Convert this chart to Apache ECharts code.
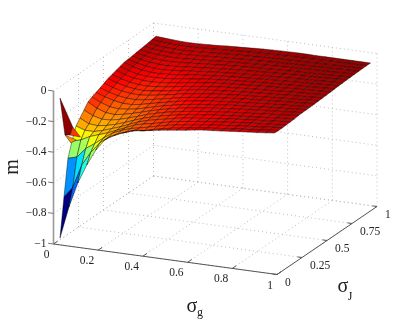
<!DOCTYPE html>
<html>
<head>
<meta charset="utf-8">
<style>html,body{margin:0;padding:0;background:#fff}#chart{width:415px;height:324px}</style>
<script src="https://cdn.jsdelivr.net/npm/echarts@6/dist/echarts.min.js"></script>
</head>
<body>
<div id="chart"></div>
<script>
const sigmaG = [0.02,0.06,0.10,0.14,0.18,0.22,0.26,0.30,0.34,0.38,0.42,0.46,0.50,0.54,0.58,0.62,0.66,0.70,0.74,0.78,0.82,0.86,0.90,0.94,0.98];
const sigmaJ = [0.02,0.06,0.10,0.14,0.18,0.22,0.26,0.30,0.34,0.38,0.42,0.46,0.50,0.54,0.58,0.62,0.66,0.70,0.74,0.78,0.82,0.86,0.90,0.94,0.98];
// one row per sigmaJ
const m = [
[-.966,-.756,-.59,-.465,-.36,-.286,-.25,-.224,-.203,-.193,-.184,-.174,-.165,-.157,-.15,-.141,-.133,-.128,-.123,-.117,-.111,-.106,-.101,-.095,-.088],
[-.716,-.643,-.49,-.40,-.33,-.285,-.255,-.235,-.215,-.21,-.195,-.182,-.17,-.162,-.153,-.145,-.137,-.131,-.125,-.119,-.113,-.108,-.102,-.096,-.09],
[-.48,-.464,-.40,-.36,-.315,-.275,-.25,-.23,-.218,-.205,-.19,-.178,-.167,-.158,-.15,-.142,-.135,-.129,-.123,-.117,-.111,-.106,-.101,-.095,-.089],
[-.386,-.37,-.34,-.32,-.30,-.275,-.25,-.225,-.21,-.20,-.186,-.173,-.162,-.154,-.146,-.139,-.132,-.126,-.12,-.114,-.109,-.104,-.099,-.094,-.087],
[-.305,-.325,-.325,-.31,-.29,-.27,-.245,-.222,-.205,-.192,-.18,-.168,-.157,-.15,-.143,-.136,-.129,-.123,-.117,-.112,-.107,-.102,-.097,-.092,-.086],
[-.271,-.30,-.305,-.295,-.28,-.26,-.238,-.217,-.2,-.186,-.174,-.163,-.153,-.146,-.139,-.132,-.126,-.12,-.115,-.11,-.105,-.1,-.095,-.09,-.084],
[-.236,-.265,-.28,-.278,-.265,-.248,-.23,-.21,-.194,-.18,-.168,-.158,-.149,-.142,-.135,-.128,-.122,-.117,-.112,-.107,-.102,-.097,-.092,-.087,-.08],
[-.201,-.235,-.255,-.26,-.25,-.236,-.22,-.203,-.188,-.175,-.163,-.153,-.144,-.137,-.13,-.124,-.118,-.113,-.108,-.103,-.098,-.094,-.09,-.085,-.079],
[-.187,-.215,-.235,-.24,-.235,-.225,-.21,-.195,-.181,-.169,-.157,-.148,-.139,-.133,-.126,-.12,-.114,-.11,-.105,-.1,-.095,-.091,-.087,-.083,-.078],
[-.175,-.195,-.212,-.222,-.222,-.213,-.2,-.187,-.174,-.162,-.151,-.142,-.134,-.128,-.122,-.116,-.111,-.107,-.102,-.097,-.093,-.089,-.085,-.081,-.077],
[-.163,-.183,-.198,-.206,-.208,-.20,-.19,-.178,-.167,-.155,-.145,-.137,-.129,-.123,-.117,-.112,-.107,-.103,-.099,-.094,-.09,-.086,-.083,-.079,-.076],
[-.15,-.171,-.185,-.193,-.195,-.189,-.18,-.17,-.159,-.148,-.139,-.131,-.124,-.118,-.113,-.108,-.103,-.1,-.096,-.092,-.088,-.084,-.081,-.077,-.074],
[-.137,-.158,-.173,-.181,-.184,-.178,-.17,-.161,-.151,-.141,-.133,-.125,-.119,-.114,-.109,-.104,-.1,-.096,-.093,-.089,-.085,-.082,-.079,-.076,-.073],
[-.128,-.149,-.163,-.171,-.173,-.168,-.161,-.152,-.143,-.135,-.127,-.12,-.114,-.109,-.105,-.1,-.096,-.093,-.09,-.086,-.083,-.08,-.077,-.074,-.071],
[-.12,-.14,-.154,-.161,-.163,-.159,-.152,-.144,-.136,-.128,-.121,-.115,-.109,-.105,-.101,-.097,-.093,-.09,-.087,-.083,-.08,-.077,-.074,-.072,-.069],
[-.111,-.132,-.146,-.152,-.153,-.15,-.144,-.136,-.129,-.122,-.115,-.11,-.105,-.101,-.097,-.094,-.09,-.087,-.084,-.081,-.078,-.075,-.072,-.07,-.067],
[-.103,-.124,-.137,-.144,-.145,-.141,-.136,-.129,-.122,-.116,-.11,-.105,-.1,-.097,-.094,-.09,-.087,-.084,-.081,-.078,-.075,-.073,-.07,-.068,-.065],
[-.10,-.117,-.129,-.135,-.137,-.133,-.128,-.122,-.116,-.11,-.105,-.1,-.096,-.093,-.09,-.087,-.084,-.081,-.078,-.076,-.073,-.071,-.068,-.066,-.064],
[-.097,-.111,-.122,-.127,-.129,-.125,-.12,-.115,-.11,-.105,-.1,-.096,-.092,-.089,-.086,-.083,-.08,-.078,-.075,-.073,-.071,-.069,-.066,-.064,-.062],
[-.093,-.106,-.115,-.119,-.12,-.117,-.113,-.108,-.104,-.099,-.095,-.091,-.088,-.085,-.082,-.08,-.077,-.075,-.073,-.071,-.069,-.067,-.065,-.063,-.061],
[-.09,-.101,-.108,-.111,-.112,-.11,-.106,-.102,-.098,-.094,-.09,-.087,-.084,-.081,-.079,-.076,-.074,-.072,-.07,-.068,-.066,-.065,-.063,-.061,-.06],
[-.086,-.096,-.102,-.105,-.105,-.103,-.099,-.096,-.092,-.089,-.086,-.083,-.08,-.078,-.075,-.073,-.071,-.069,-.067,-.066,-.064,-.063,-.061,-.06,-.059],
[-.082,-.091,-.096,-.099,-.099,-.097,-.094,-.09,-.087,-.084,-.081,-.078,-.076,-.074,-.072,-.07,-.068,-.066,-.065,-.063,-.062,-.061,-.06,-.059,-.058],
[-.078,-.085,-.09,-.092,-.092,-.09,-.087,-.085,-.081,-.078,-.075,-.072,-.07,-.068,-.066,-.065,-.063,-.062,-.061,-.06,-.059,-.059,-.058,-.058,-.057],
[-.073,-.078,-.082,-.085,-.086,-.084,-.081,-.079,-.074,-.071,-.068,-.065,-.062,-.06,-.058,-.057,-.056,-.056,-.057,-.057,-.057,-.057,-.057,-.057,-.057]
];
// the spike at the near corner does not sit on the regular grid: [sigmaG, sigmaJ, m], and the m it is coloured by
const spikePatches = [
  {colorM: -.28, pts: [[.02,.07,-.314],[.07,.07,-.337],[.02,.13,-.394]]},
  {colorM: -.05, pts: [[.02,.02,-.051],[.02,.07,-.314],[.045,.065,-.308],[.055,.07,-.256]]},
  {colorM: -.2, pts: [[.055,.07,-.256],[.08,.09,-.325],[.045,.065,-.308]]}
];
const xTicks = [0,0.2,0.4,0.6,0.8,1];
const yTicks = [0,0.25,0.5,0.75,1];
const zTicks = [0,-0.2,-0.4,-0.6,-0.8,-1];
const xTickLabels = ['0','0.2','0.4','0.6','0.8','1'];
const yTickLabels = ['0','0.25','0.5','0.75','1'];
const zTickLabels = ['0','\u22120.2','\u22120.4','\u22120.6','\u22120.8','\u22121'];

// orthographic view of the unit box
function project(x, y, z) {
    return [53.5 + 223.5*x + 100*y, 244 + 30.5*x - 68*y - 153*(z + 1)];
}

function jet(t) {
    var f = function(c){ return Math.round(255*Math.max(0, Math.min(1, c))); };
    var r = 1.5 - Math.abs(4*t - 3);
    var g = 1.5 - Math.abs(4*t - 2);
    var b = 1.5 - Math.abs(4*t - 1);
    return 'rgb(' + f(r) + ',' + f(g) + ',' + f(b) + ')';
}
var zMin = -0.966, zMax = -0.035;
function colorOf(z){ return jet((z - zMin)/(zMax - zMin)); }

var gridLines = [];
zTicks.forEach(function(z){
    gridLines.push([[0,0,z],[0,1,z]]);
    gridLines.push([[0,1,z],[1,1,z]]);
});
xTicks.forEach(function(x){
    gridLines.push([[x,0,-1],[x,1,-1]]);
    gridLines.push([[x,1,-1],[x,1,0]]);
});
yTicks.forEach(function(y){
    gridLines.push([[0,y,-1],[1,y,-1]]);
    gridLines.push([[0,y,-1],[0,y,0]]);
});

var axisLines = [
    {a:[0,0,-1], b:[1,0,-1], c:'#555', w:1},
    {a:[1,0,-1], b:[1,1,-1], c:'#555', w:1},
    {a:[0,0,-1], b:[0,0,0], c:'#999', w:1.6}
];
xTicks.forEach(function(x){ axisLines.push({a:[x,0,-1], b:[x,0.04,-1], c:'#555', w:1}); });
yTicks.forEach(function(y){ axisLines.push({a:[1,y,-1], b:[0.98,y,-1], c:'#555', w:1}); });
zTicks.forEach(function(z){ axisLines.push({a:[0,0,z], b:[-0.024,0,z], c:'#777', w:1}); });

var tickTexts = [];
xTicks.forEach(function(x,k){
    var p = project(x,0,-1);
    tickTexts.push({x:p[0]-4, y:p[1]+11, s:xTickLabels[k], align:'right'});
});
yTicks.forEach(function(y,k){
    var p = project(1,y,-1);
    tickTexts.push({x:p[0]+8, y:p[1]+8, s:yTickLabels[k], align:'left'});
});
zTicks.forEach(function(z,k){
    var p = project(0,0,z);
    tickTexts.push({x:p[0]-7, y:p[1], s:zTickLabels[k], align:'right'});
});

// far cells first
var cells = [];
for (var i = 0; i < sigmaG.length-1; i++) {
    for (var j = sigmaJ.length-2; j >= 0; j--) {
        cells.push([i,j]);
    }
}

function pointsInPlot(api, list) {
    return list.map(function(p){ return api.coord(project(p[0],p[1],p[2])); });
}

var myChart = echarts.init(document.getElementById("chart"), null, {renderer:'canvas'});
var option = {
    animation: false,
    backgroundColor: '#fff',
    grid: {left:0, right:0, top:0, bottom:0},
    xAxis: {type:'value', min:0, max:415, show:false},
    yAxis: {type:'value', min:0, max:324, inverse:true, show:false},
    series: [
        {
            type:'custom', silent:true, clip:false, data:gridLines.map(function(l,k){return [k];}),
            renderItem:function(params, api){
                var l = gridLines[params.dataIndex];
                var p = pointsInPlot(api, l);
                return {type:'line', shape:{x1:p[0][0],y1:p[0][1],x2:p[1][0],y2:p[1][1]},
                    style:{stroke:'#bdbdbd', lineWidth:1, lineDash:[1,3], fill:null}};
            }
        },
        {
            type:'custom', silent:true, clip:false, data:axisLines.map(function(l,k){return [k];}),
            renderItem:function(params, api){
                var l = axisLines[params.dataIndex];
                var p = pointsInPlot(api, [l.a,l.b]);
                return {type:'line', shape:{x1:p[0][0],y1:p[0][1],x2:p[1][0],y2:p[1][1]},
                    style:{stroke:l.c, lineWidth:l.w, fill:null}};
            }
        },
        {
            type:'custom', silent:true, clip:false, data:cells,
            renderItem:function(params, api){
                var c = cells[params.dataIndex], i = c[0], j = c[1];
                var p = pointsInPlot(api, [
                    [sigmaG[i],sigmaJ[j],m[j][i]],
                    [sigmaG[i+1],sigmaJ[j],m[j][i+1]],
                    [sigmaG[i+1],sigmaJ[j+1],m[j+1][i+1]],
                    [sigmaG[i],sigmaJ[j+1],m[j+1][i]]
                ]);
                return {type:'polygon', shape:{points:p},
                    style:{fill:colorOf(m[j][i]), stroke:'rgba(0,0,0,0.7)', lineWidth:0.6}};
            }
        },
        {
            type:'custom', silent:true, clip:false, data:spikePatches.map(function(l,k){return [k];}),
            renderItem:function(params, api){
                var s = spikePatches[params.dataIndex];
                return {type:'polygon', shape:{points:pointsInPlot(api, s.pts)},
                    style:{fill:colorOf(s.colorM), stroke:'rgba(0,0,0,0.7)', lineWidth:0.6}};
            }
        },
        {
            type:'custom', silent:true, clip:false, data:tickTexts.map(function(l,k){return [k];}),
            renderItem:function(params, api){
                var t = tickTexts[params.dataIndex];
                var p = api.coord([t.x,t.y]);
                return {type:'text', x:p[0], y:p[1],
                    style:{text:t.s, fill:'#222', font:'11.5px "Liberation Serif"', textAlign:t.align, textVerticalAlign:'middle'}};
            }
        }
    ],
    graphic: [
        {type:'text', x:13, y:167, rotation:Math.PI/2, style:{text:'m', fill:'#222', font:'20px "Liberation Serif"', textAlign:'center', textVerticalAlign:'middle'}},
        {type:'text', x:192, y:307, style:{text:'\u03c3', fill:'#222', font:'20px "Liberation Serif"', textAlign:'center', textVerticalAlign:'middle'}},
        {type:'text', x:200, y:313, style:{text:'g', fill:'#222', font:'12px "Liberation Serif"', textAlign:'center', textVerticalAlign:'middle'}},
        {type:'text', x:343, y:287, style:{text:'\u03c3', fill:'#222', font:'20px "Liberation Serif"', textAlign:'center', textVerticalAlign:'middle'}},
        {type:'text', x:350, y:297, style:{text:'J', fill:'#222', font:'12px "Liberation Serif"', textAlign:'center', textVerticalAlign:'middle'}}
    ]
};
myChart.setOption(option);
window.addEventListener("resize", function() {
    myChart.resize();
});
</script>
</body>
</html>
